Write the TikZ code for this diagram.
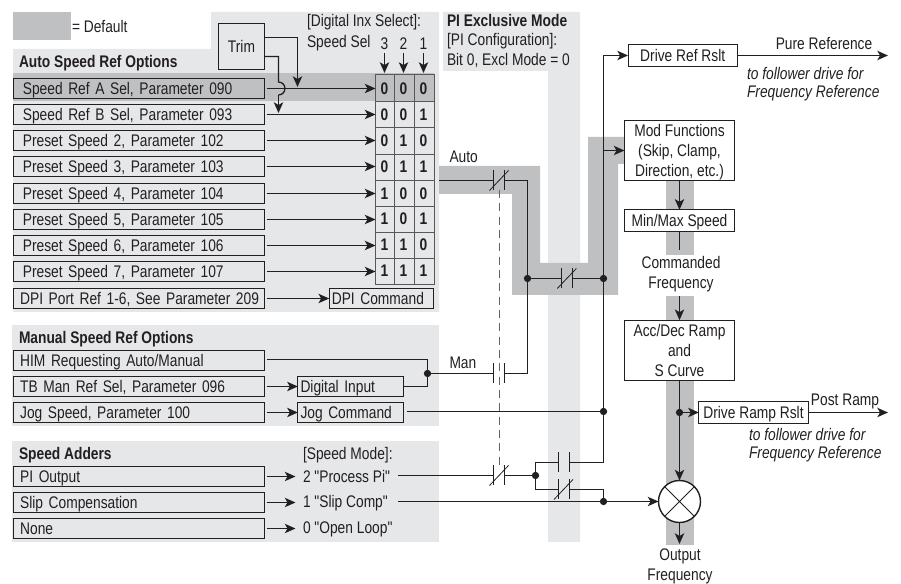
\documentclass[tikz,border=0pt]{standalone}
\usepackage{fontspec}
\setmainfont[FakeStretch=0.82,Ligatures=TeXOff]{Liberation Sans}
\usetikzlibrary{arrows.meta}
\definecolor{lightp}{HTML}{E6E7E8}
\definecolor{darkb}{HTML}{BFC0C2}
\definecolor{ink}{HTML}{231F20}
\newcommand{\fs}{\fontsize{12.6pt}{15pt}\selectfont}
\tikzset{
  x=0.75pt,y=-0.75pt,
  every node/.style={font=\fs,text=ink,inner sep=0pt,outer sep=0pt},
  single/.style={text height=9pt,text depth=0pt},
  two/.style={text height=24pt,text depth=0pt},
  three/.style={text height=38.5pt,text depth=0pt},
  wire/.style={draw=ink,line width=0.95pt},
  arr/.style={wire,-{Stealth[length=8pt,width=7pt,inset=2pt]}},
  thin wire/.style={draw=ink,line width=0.6pt},
  rowbox/.style={single,draw=ink,line width=0.95pt,minimum height=15pt,text width=188.25pt,anchor=west,align=left},
  wbox/.style={draw=ink,line width=0.8pt,fill=white,anchor=center,align=center},
  lbox/.style={single,draw=ink,line width=0.8pt,anchor=center,align=left,minimum height=15pt},
  cell/.style={single,font=\fs\bfseries,anchor=center},
  lab/.style={single,anchor=west},
  hd/.style={lab,font=\fs\bfseries},
  ctr/.style={anchor=center,align=center},
  ital/.style={anchor=west,align=left,font=\fontsize{12.6pt}{13.5pt}\selectfont\itshape,text height=22.5pt,text depth=0pt},
  dot/.style={circle,fill=ink,minimum size=5.5pt},
}
% contact: name x y ; normally open
\newcommand{\contact}[3]{%
  \coordinate (#1a) at (#2-5.5,#3);\coordinate (#1b) at (#2+5.5,#3);
  \draw[thin wire] (#2-5.5,#3-10) -- (#2-5.5,#3+10);
  \draw[thin wire] (#2+5.5,#3-10) -- (#2+5.5,#3+10);}
\newcommand{\contactnc}[3]{\contact{#1}{#2}{#3}%
  \draw[thin wire] (#2-9.5,#3+10) -- (#2+9.5,#3-10);}
\begin{document}
\begin{tikzpicture}
\useasboundingbox (0,0) rectangle (901,584);
% panels
\fill[lightp] (211,12) -- (439,12) -- (439,312) -- (13,312) -- (13,49) -- (211,49) -- cycle;
\fill[lightp] (12,325) rectangle (439,426);
\fill[lightp] (12,441) rectangle (439,542);
\fill[lightp] (443,12) -- (580,12) -- (580,542) -- (548,542) -- (548,71) -- (443,71) -- cycle;
% default bands
\fill[darkb] (13,12) rectangle (71,40);
\fill[darkb] (13,73.5) rectangle (434,101);
\fill[darkb] (439,166) -- (540,166) -- (540,263) -- (588,263) -- (588,137) -- (625,137) -- (625,164) -- (618,164) -- (618,295) -- (512,295) -- (512,194) -- (439,194) -- cycle;
\fill[darkb] (666,180) rectangle (694,255);
\fill[darkb] (666,296) rectangle (694,545);
% titles
\node[lab] (tdef) at (72,27) {= Default};
\node[hd] (tauto) at (19,62) {Auto Speed Ref Options};
\node[lab] (tdig) at (307,21) {[Digital Inx Select]:};
\node[lab] (tsel) at (307,42) {Speed Sel};
\node[hd] (tpi) at (447,21) {PI Exclusive Mode};
\node[lab] (tpi2) at (447,40) {[PI Configuration]:};
\node[lab] (tpi3) at (447,60) {Bit 0, Excl Mode = 0};
\node[hd] (tman) at (19,338) {Manual Speed Ref Options};
\node[hd] (tadd) at (19,454) {Speed Adders};
\node[lab] (tmode) at (303,454) {[Speed Mode]:};
\node[lab] (tautol) at (449.5,157) {Auto};
\node[lab] (tmanl) at (449.5,363) {Man};
% row boxes
\foreach \n/\y/\t in {r0/88.5/{Speed Ref A Sel, Parameter 090},r1/114.5/{Speed Ref B Sel, Parameter 093},r2/140.5/{Preset Speed 2, Parameter 102},r3/166.5/{Preset Speed 3, Parameter 103},r4/193.5/{Preset Speed 4, Parameter 104},r5/219.5/{Preset Speed 5, Parameter 105},r6/245.5/{Preset Speed 6, Parameter 106},r7/271.5/{Preset Speed 7, Parameter 107}}
  \node[rowbox] (\n) at (13.5,\y) {\hspace*{7pt}\t};
\foreach \n/\y/\t in {rd/298.5/{DPI Port Ref 1-6, See Parameter 209},rh/360.5/{HIM Requesting Auto/Manual},rt/386.5/{TB Man Ref Sel, Parameter 096},rj/412.5/{Jog Speed, Parameter 100},rp/476.5/{PI Output},rs/502.5/{Slip Compensation},rn/528.5/{None}}
  \node[rowbox] (\n) at (13.5,\y) {\hspace*{5pt}\t};
% trim
\node[wbox,single,fill=none,minimum width=35pt,minimum height=34pt] (trim) at (241.5,46.5) {Trim};
% matrix
\foreach \i/\y in {0/88.5,1/114.5,2/140.5,3/166.5,4/193.5,5/219.5,6/245.5,7/271.5}
  \coordinate (m\i) at (375.5,\y);
\draw[draw=ink!75,line width=0.8pt] (375.5,74.5) rectangle (434.5,284.5);
\foreach \x in {394.5,414.5} \draw[draw=ink!75,line width=0.7pt] (\x,74.5) -- (\x,284.5);
\foreach \y in {101.5,127.5,154.5,180.5,206.5,232.5,258.5} \draw[draw=ink!75,line width=0.7pt] (375.5,\y) -- (434.5,\y);
\foreach \y/\a/\b/\c in {88.5/0/0/0,114.5/0/0/1,141/0/1/0,167/0/1/1,194/1/0/0,219/1/0/1,245/1/1/0,271/1/1/1}{
  \node[cell] at (384.5,\y) {\a};\node[cell] at (403.5,\y) {\b};\node[cell] at (423.5,\y) {\c};}
% headers
\foreach \n/\x/\t in {h3/384.5/3,h2/403.5/2,h1/423.5/1}{
  \node[ctr,single] (\n) at (\x,44) {\t};
  \coordinate (\n t) at (\x,73);
  \draw[arr] (\x,53) -- (\n t);}
% row arrows
\foreach \i in {0,...,7} \draw[arr] (r\i.east) ++(2,0) -- (m\i);
% trim wires
\coordinate (t1) at (297.5,87);
\coordinate (t2) at (278.5,113);
\draw[arr] (trim.east |- 0,37.5) -- (297.5,37.5) -- (t1);
\draw[wire,fill=none] (trim.east |- 0,56.5) -- (278.5,56.5) -- (278.5,82) arc[start angle=-90,end angle=90,radius=6.5];
\draw[arr] (278.5,95) -- (t2);
% DPI
\node[lbox,text width=74.5pt,minimum width=78.5pt] (dpi) at (381.5,298.5) {DPI Command};
\draw[arr] (rd.east) ++(2,0) -- (dpi.west);
% manual
\node[lbox,text width=75pt,minimum width=79pt] (dig) at (350.5,386.5) {Digital Input};
\node[lbox,text width=75pt,minimum width=79pt] (jog) at (350.5,412.5) {Jog Command};
\draw[arr] (rt.east) ++(2,0) -- (dig.west);
\draw[arr] (rj.east) ++(2,0) -- (jog.west);
\node[dot] (djn) at (427.5,373.5) {};
\draw[wire] (rh.east |- 0,359.5) ++(2,0) -- (427.5,359.5) -- (djn.center);
\draw[wire] (dig.east) -- (427.5,386.5) -- (djn.center);
% adders
\node[lab] (m2t) at (303,477) {2 "Process Pi"};
\node[lab] (m1t) at (303,502) {1 "Slip Comp"};
\node[lab] (m0t) at (303,528) {0 "Open Loop"};
\draw[arr] (rp.east) ++(2,0) -- ++(29,0);
\draw[arr] (rs.east) ++(2,0) -- ++(29,0);
\draw[arr] (rn.east) ++(2,0) -- ++(29,0);
% dashed interlock
\draw[draw=ink!70,line width=0.6pt,dash pattern=on 6pt off 4pt] (499.5,190) -- (499.5,465);
% contacts
\contactnc{ca}{499}{180.5}
\contact{cm}{499}{373.5}
\contactnc{cb}{566.8}{278.5}
\contactnc{cp}{499}{475.5}
\contact{cq}{563.5}{462.5}
\contactnc{cr}{563.5}{489.5}
% right column boxes
\node[wbox,single,minimum width=82pt,minimum height=16pt] (ref) at (682.7,55.5) {Drive Ref Rslt};
\node[wbox,three,minimum width=82.5pt,minimum height=45pt] (mod) at (679.5,150.5) {Mod Functions\\(Skip, Clamp,\\Direction, etc.)};
\node[wbox,single,minimum width=82.5pt,minimum height=16pt] (mm) at (679.5,220.5) {Min/Max Speed};
\node[ctr,two] (cmd) at (681,273) {Commanded\\Frequency};
\node[wbox,three,minimum width=82.5pt,minimum height=45.5pt] (acc) at (679.5,350.5) {Acc/Dec Ramp\\and\\S Curve};
\node[wbox,single,minimum width=82pt,minimum height=16pt] (ramp) at (753.5,412.5) {Drive Ramp Rslt};
\node[circle,draw=ink,line width=1.05pt,fill=white,minimum size=31.5pt] (sum) at (679.5,501.5) {};
\draw[thin wire] (sum.north west) -- (sum.south east) (sum.north east) -- (sum.south west);
\node[ctr,two] (outf) at (680,565) {Output\\Frequency};
\coordinate (pure) at (888,55.5);
\coordinate (post) at (888,412.5);
\node[ctr,single] (tpure) at (824,44) {Pure Reference};
\node[ctr,single] (tpost) at (845,400) {Post Ramp};
\node[ital] (f1) at (747,83) {to follower drive for\\Frequency Reference};
\node[ital] (f2) at (749,444) {to follower drive for\\Frequency Reference};
% junctions
\node[dot] (j1) at (527.5,278.5) {};
\node[dot] (j2) at (603.5,278.5) {};
\node[dot] (j3) at (603.5,411.5) {};
\node[dot] (j4) at (603.5,501.5) {};
\node[dot] (j5) at (535.5,475.5) {};
\node[dot] (j6) at (679.5,412.5) {};
% wires
\coordinate (autos) at (439,180.5);
\coordinate (jog2) at (406.7,411.5);
\coordinate (p2) at (398,475.5);
\coordinate (s2) at (398,501.5);
\draw[wire] (autos) -- (caa);
\draw[wire] (cab) -- (j1 |- cab) -- (j1.center);
\draw[wire] (djn.center) -- (cma);
\draw[wire] (cmb) -- (j1 |- cmb) -- (j1.center);
\draw[wire] (j1.center) -- (cba);
\draw[wire] (cbb) -- (j2.center);
\draw[arr] (j2.center) -- (j2 |- ref.west) -- (ref.west);
\draw[arr] (j2 |- mod.west) -- (mod.west);
\draw[wire] (j2.center) -- (j3.center);
\draw[wire] (jog2) -- (j3.center);
\draw[wire] (p2) -- (cpa);
\draw[wire] (cpb) -- (j5.center);
\draw[wire] (j5.center) -- (j5 |- cqa) -- (cqa);
\draw[wire] (cqb) -- (j3 |- cqb) -- (j3.center);
\draw[wire] (j5.center) -- (j5 |- cra) -- (cra);
\draw[wire] (crb) -- (j4 |- crb) -- (j4.center);
\draw[arr] (s2) -- (sum.west);
\draw[arr] (ref.east) -- (pure);
\draw[arr] (mod.south) -- (mm.north);
\coordinate (mmend) at (679.5,250);
\draw[wire] (mm.south) -- (mmend);
\coordinate (accs) at (679.5,296);
\draw[arr] (accs) -- (acc.north);
\draw[arr] (acc.south) -- (sum.north);
\draw[arr] (j6.center) -- (ramp.west);
\draw[arr] (ramp.east) -- (post);
\coordinate (oute) at (679.5,544);
\draw[arr] (sum.south) -- (oute);
\end{tikzpicture}
\end{document}
